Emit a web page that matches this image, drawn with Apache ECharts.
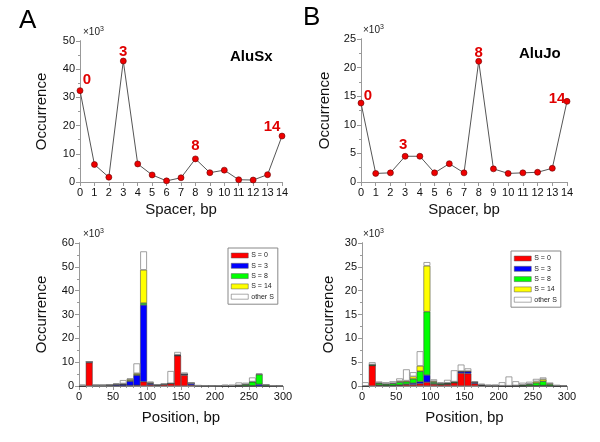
<!DOCTYPE html>
<html><head><meta charset="utf-8">
<script src="https://cdn.jsdelivr.net/npm/echarts@6/dist/echarts.min.js"></script>
<style>html,body{margin:0;padding:0;background:#fff}#c{width:600px;height:442px}</style>
</head><body><div id="c"></div>
<script>
// ---- data (values in thousands) ----
const spacers = [0,1,2,3,4,5,6,7,8,9,10,11,12,13,14];
const aluSxSpacer = [32.4,6.2,1.7,42.9,6.4,2.5,0.4,1.5,8.2,3.3,4.2,0.8,0.7,2.6,16.3];
const aluJoSpacer = [13.8,1.5,1.6,4.5,4.5,1.6,3.2,1.6,21.1,2.3,1.5,1.6,1.7,2.4,14.1];
const highlighted = [0,3,8,14];

const bins = ['0','10','20','30','40','50','60','70','80','90','100','110','120','130','140','150','160','170','180','190','200','210','220','230','240','250','260','270','280','290'];
const seriesNames = ['S = 0','S = 3','S = 8','S = 14','other S'];
const sxS0    = [0,9.8,0.1,0.1,0.1,0.1,0.1,0.2,0.3,1.8,0.5,0.3,0.6,1.0,12.7,4.5,0.4,0.1,0,0,0,0,0,0,0,0,0,0,0,0];
const sxS3    = [0,0.3,0.2,0.2,0.3,0.5,0.6,1.8,4.2,32.2,0.5,0.1,0.1,0.1,0.3,0.5,0.8,0.1,0.05,0,0,0,0,0,0.1,0.1,0.7,0,0,0];
const sxS8    = [0,0,0,0,0,0.1,0.1,0.3,0.3,0.8,0.2,0,0,0,0,0,0,0,0,0,0,0.1,0.1,0.3,0.6,1.7,4.1,0.5,0.1,0];
const sxS14   = [0,0,0,0,0,0.1,0.2,0.5,0.5,13.9,0.3,0.1,0,0,0.1,0,0,0,0,0,0,0,0,0,0,0,0.1,0,0,0];
const sxOther = [0.7,0.1,0.1,0.1,0.2,0.2,1.5,0.4,4.2,7.8,0.3,0.1,0.4,5.2,1.2,0.7,0.1,0.1,0.1,0.1,0.2,0.5,0.5,1.2,0.7,1.8,0.4,0.1,0.1,0.1];
const joS0    = [0,4.3,0.2,0.1,0.1,0.2,0.3,0.3,0.5,0.8,0.4,0.3,0.4,0.7,2.7,2.6,0.5,0.1,0.05,0.05,0,0,0,0,0.05,0.05,0.05,0.05,0,0];
const joS3    = [0,0,0,0,0,0,0.1,0.3,0.4,1.5,0.1,0,0,0,0.3,0.4,0.2,0.05,0,0,0,0,0,0,0,0,0.05,0,0,0];
const joS8    = [0,0.2,0.4,0.3,0.4,0.6,0.5,0.9,2.2,13.3,0.3,0.2,0.2,0.2,0.1,0.1,0.1,0.1,0.05,0.05,0.05,0.05,0.1,0.2,0.3,0.6,0.9,0.3,0.05,0];
const joS14   = [0,0,0.05,0.05,0.1,0.2,0.2,0.5,1.1,9.6,0.2,0.05,0.05,0,0,0,0,0,0,0,0,0,0,0.05,0.1,0.3,0.4,0.2,0.05,0];
const joOther = [0.8,0.5,0.3,0.35,0.4,0.6,2.4,0.9,3.1,0.8,0.4,0.25,0.65,2.4,1.4,0.6,0.2,0.25,0.2,0.2,0.75,1.95,0.9,0.45,0.45,0.55,0.4,0.1,0.1,0.1];

const colors = ['#ff0000','#0000ff','#00ff00','#ffff00','#ffffff'];
const FONT = 'Liberation Sans, Arial, sans-serif';

const grids = [
  {left:80, top:41, width:202, height:141},
  {left:361, top:39, width:206, height:143},
  {left:79, top:243, width:204, height:143},
  {left:362, top:243, width:205, height:143}
];

const axisLine = {show:true, lineStyle:{color:'#777', width:1}};
const lbl = {color:'#111', fontSize:11, fontFamily:FONT};
const nameStyle = {color:'#111', fontSize:15, fontFamily:FONT};

const xAxis = [], yAxis = [], series = [];

function frame(gi, xmax, xint, xminor, ymax, yint, xname, yname, xGap, yGap) {
  xAxis.push({gridIndex:gi, type:'value', min:0, max:xmax, interval:xint, position:'bottom',
    axisLine, axisTick:{show:true, length:4, lineStyle:{color:'#777'}}, minorTick:{show:true, splitNumber:xminor, length:2, lineStyle:{color:'#777'}},
    axisLabel:Object.assign({margin:5}, lbl), splitLine:{show:false},
    name:xname, nameLocation:'middle', nameGap:xGap, nameTextStyle:nameStyle});
  xAxis.push({gridIndex:gi, type:'value', min:0, max:xmax, interval:xint, position:'top',
    axisLine:{show:true, lineStyle:{color:'#999'}}, axisTick:{show:true, inside:true, length:4, lineStyle:{color:'#999'}},
    minorTick:{show:true, splitNumber:xminor, length:2, lineStyle:{color:'#999'}},
    axisLabel:{show:false}, splitLine:{show:false}});
  yAxis.push({gridIndex:gi, type:'value', min:0, max:ymax, interval:yint, position:'left',
    axisLine, axisTick:{show:true, length:4, lineStyle:{color:'#777'}}, minorTick:{show:true, splitNumber:2, length:2, lineStyle:{color:'#777'}},
    axisLabel:Object.assign({margin:5}, lbl), splitLine:{show:false},
    name:yname, nameLocation:'middle', nameGap:yGap, nameRotate:90, nameTextStyle:nameStyle});
  yAxis.push({gridIndex:gi, type:'value', min:0, max:ymax, interval:yint, position:'right',
    axisLine:{show:true, lineStyle:{color:'#999'}}, axisTick:{show:true, inside:true, length:4, lineStyle:{color:'#999'}},
    minorTick:{show:true, splitNumber:2, length:2, lineStyle:{color:'#999'}},
    axisLabel:{show:false}, splitLine:{show:false}});
}

frame(0, 14, 1, 1, 50, 10, 'Spacer, bp', 'Occurrence', 20, 30.5);
frame(1, 14, 1, 1, 25, 5, 'Spacer, bp', 'Occurrence', 20, 28.5);
frame(2, 300, 50, 5, 60, 10, 'Position, bp', 'Occurrence', 24, 29.5);
frame(3, 300, 50, 5, 30, 5, 'Position, bp', 'Occurrence', 24, 25.5);
xAxis.push({gridIndex:2, type:'category', data:bins, show:false, boundaryGap:true});
xAxis.push({gridIndex:3, type:'category', data:bins, show:false, boundaryGap:true});
const catA = xAxis.length - 2, catB = xAxis.length - 1;

function lineSeries(xi, yi, vals, offsets) {
  series.push({type:'line', xAxisIndex:xi, yAxisIndex:yi,
    data: spacers.map((s,i) => {
      const d = {value:[s, vals[i]]};
      const k = highlighted.indexOf(s);
      if (k >= 0) d.label = {show:true, position:'top', offset:offsets[k], formatter:String(s),
        color:'#e00000', fontWeight:'bold', fontSize:15, fontFamily:FONT};
      return d;
    }),
    symbol:'circle', symbolSize:6, lineStyle:{color:'#555', width:1},
    itemStyle:{color:'#ee0000', borderColor:'#600', borderWidth:0.6}, silent:true, z:3});
}
lineSeries(0, 0, aluSxSpacer, [[7,5],[0,7],[0,3],[-10,7]]);
lineSeries(2, 2, aluJoSpacer, [[7,9],[-2,4],[0,7],[-10,13]]);

const sxComp = [sxS0, sxS3, sxS8, sxS14, sxOther];
const joComp = [joS0, joS3, joS8, joS14, joOther];
function barSeries(xi, yi, comps, stack) {
  comps.forEach((vals, k) => {
    series.push({type:'bar', name:seriesNames[k], xAxisIndex:xi, yAxisIndex:yi, stack,
      data: vals, barWidth:'100%', barCategoryGap:'0%', barGap:'0%',
      itemStyle:{color:colors[k], borderColor: k===4 ? '#888' : '#333', borderWidth: k===4 ? 0.8 : 0.5},
      silent:true, animation:false});
  });
}
barSeries(catA, 4, sxComp, 'A');
barSeries(catB, 6, joComp, 'B');

function legend(left, top) {
  return {left, top, orient:'vertical', data:seriesNames, icon:'rect', itemWidth:17, itemHeight:5,
    itemGap:3.3, padding:[4,4,4,3], borderColor:'#888', borderWidth:1, backgroundColor:'#fff',
    itemStyle:{borderWidth:0.5, borderColor:'#555'},
    textStyle:{fontSize:7, color:'#222', fontFamily:FONT, padding:[0,0,0,-2]}, selectedMode:false};
}

const sup = (x, y) => ({type:'text', left:x, top:y, style:{text:'×10{s|3}', rich:{s:{fontSize:7, verticalAlign:'top', fontFamily:FONT, padding:[0,0,5,0]}}, fontSize:10, fontFamily:FONT, fill:'#222'}});

const option = {
  animation:false,
  grid: grids,
  xAxis, yAxis, series,
  legend:[legend(228, 248), legend(511, 251)],
  graphic:[
    {type:'text', left:19, top:8, style:{text:'A', fontSize:26, fontFamily:FONT, fill:'#000'}},
    {type:'text', left:303, top:5, style:{text:'B', fontSize:26, fontFamily:FONT, fill:'#000'}},
    {type:'text', left:230, top:49, style:{text:'AluSx', fontSize:15, fontWeight:'bold', fontFamily:FONT, fill:'#000'}},
    {type:'text', left:519, top:46, style:{text:'AluJo', fontSize:15, fontWeight:'bold', fontFamily:FONT, fill:'#000'}},
    sup(83, 26), sup(363, 24), sup(83, 228), sup(363, 228)
  ]
};
echarts.init(document.getElementById('c'), null, {renderer:'canvas'}).setOption(option);
</script></body></html>
